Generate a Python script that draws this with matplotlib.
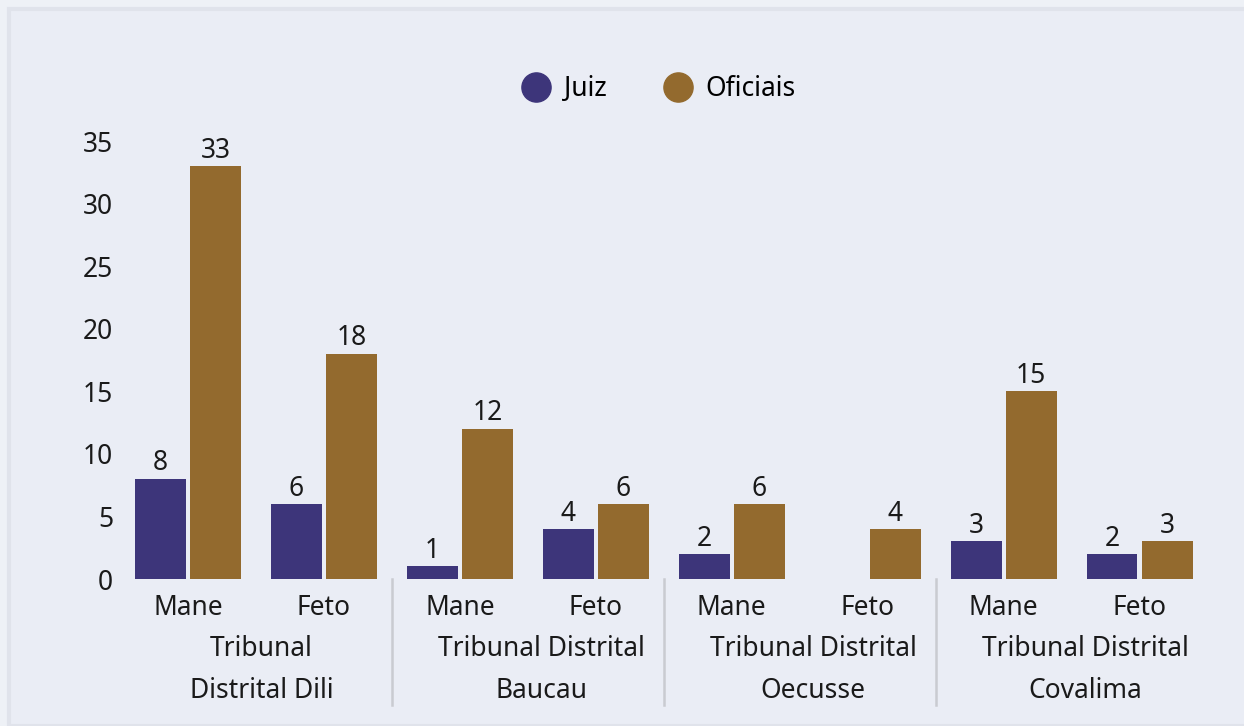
import matplotlib
matplotlib.use("Agg")
import matplotlib.pyplot as plt
from matplotlib.patches import Rectangle
from matplotlib.lines import Line2D
import numpy as np

plt.rcParams['font.family'] = ['Noto Sans', 'DejaVu Sans']

categories = ["Mane", "Feto", "Mane", "Feto", "Mane", "Feto", "Mane", "Feto"]
groups = ["Tribunal\nDistrital Dili", "Tribunal Distrital\nBaucau",
          "Tribunal Distrital\nOecusse", "Tribunal Distrital\nCovalima"]
juiz = [8, 6, 1, 4, 2, 0, 3, 2]
oficiais = [33, 18, 12, 6, 6, 4, 15, 3]
series_names = ["Juiz", "Oficiais"]
yticks = [0, 5, 10, 15, 20, 25, 30, 35]

c_juiz = "#3d357a"
c_ofi = "#936a2e"

W, H = 1244, 726
fig = plt.figure(figsize=(W / 100, H / 100), dpi=100)
fig.patch.set_facecolor("#eef1f6")
fig.add_artist(Rectangle((9 / W, 0), 1, 1 - 9 / H, transform=fig.transFigure,
                         facecolor="#eaedf5", edgecolor="#e0e3eb", linewidth=3, zorder=-10))

ax = fig.add_axes([120 / W, (H - 579) / H, (1207.5 - 120) / W, (579 - 141) / H])
ax.set_facecolor("none")
x = np.arange(len(categories))
bw = 0.375
b1 = ax.bar(x - bw / 2 - 0.015, juiz, bw, color=c_juiz)
b2 = ax.bar(x + bw / 2 + 0.015, oficiais, bw, color=c_ofi)
fs = 19
for bars, vals in ((b1, juiz), (b2, oficiais)):
    ax.bar_label(bars, labels=[str(v) if v else "" for v in vals], padding=1,
                 fontsize=fs, color="#1a1a1a")

ax.set_xlim(-0.5, len(categories) - 0.5)
ax.set_ylim(0, 35)
ax.set_yticks(yticks)
ax.set_xticks(x)
ax.set_xticklabels(categories)
ax.tick_params(axis="both", length=0, labelsize=fs, colors="#1a1a1a")
ax.tick_params(axis="y", pad=5)
ax.tick_params(axis="x", pad=10.5)
for s in ax.spines.values():
    s.set_visible(False)

trans = ax.get_xaxis_transform()
offs = [0.04, 0.1, 0.1, 0.1]
for i, g in enumerate(groups):
    ax.text(2 * i + 0.5 + offs[i], -0.128, g, transform=trans, ha="center", va="top",
            fontsize=fs, linespacing=1.68, color="#1a1a1a")
for i in range(1, 4):
    ax.plot([2 * i - 0.5, 2 * i - 0.5], [0, -0.287], transform=trans, color="#c9cbd1",
            linewidth=1.8, clip_on=False)

handles = [Line2D([], [], marker="o", linestyle="none", markersize=21, color=c)
           for c in (c_juiz, c_ofi)]
fig.legend(handles, series_names, loc="center", bbox_to_anchor=(658 / W, 1 - 89 / H),
           ncol=2, frameon=False, fontsize=fs, handletextpad=0.45, columnspacing=2.1,
           handlelength=1.2)

fig.savefig("out.png", dpi=100, facecolor=fig.get_facecolor())
